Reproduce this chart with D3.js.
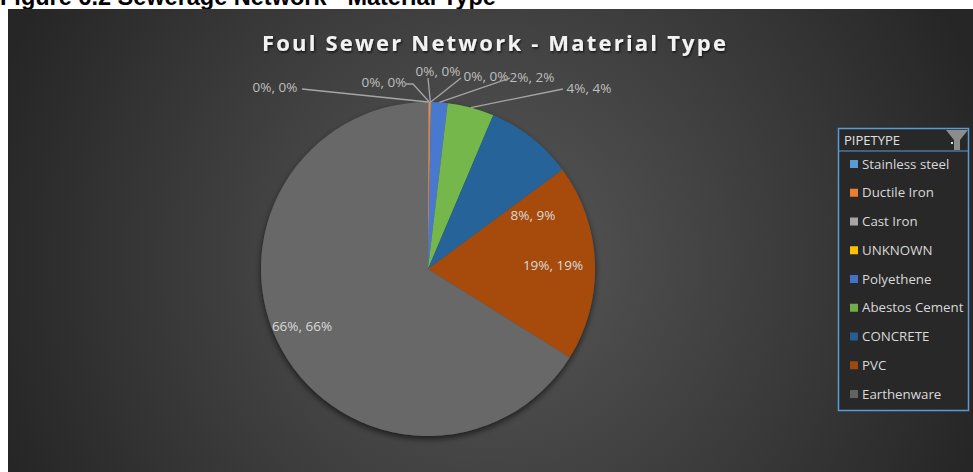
<!DOCTYPE html>
<html><head><meta charset="utf-8">
<script src="https://cdn.jsdelivr.net/npm/d3@7"></script>
<style>html,body{margin:0;padding:0;background:#fff;overflow:hidden}</style>
</head><body>
<svg id="c" width="973" height="472"></svg>
<script>
const categories = ["Stainless steel","Ductile Iron","Cast Iron","UNKNOWN","Polyethene","Abestos Cement","CONCRETE","PVC","Earthenware"];
const values = [0.05, 0.15, 0.05, 0.03, 1.6, 4.5, 8.5, 19.0, 66.1];
const labels = ["0%, 0%","0%, 0%","0%, 0%","0%, 0%","2%, 2%","4%, 4%","8%, 9%","19%, 19%","66%, 66%"];
const colors = ["#5b9bd5","#ed7d31","#a5a5a5","#ffc000","#4472c4","#70ad47","#255e91","#9e480e","#636363"];
const title = "Foul Sewer Network - Material Type";
const header = "Figure 6.2 Sewerage Network - Material Type";
const legendTitle = "PIPETYPE";

const svg = d3.select("#c");
const defs = svg.append("defs");
const bg = defs.append("radialGradient").attr("id","bg").attr("gradientUnits","userSpaceOnUse")
  .attr("cx",490).attr("cy",260).attr("r",520);
bg.append("stop").attr("offset","0").attr("stop-color","#585858");
bg.append("stop").attr("offset","1").attr("stop-color","#262626");

const sh = defs.append("filter").attr("id","sh").attr("x","-20%").attr("y","-20%").attr("width","140%").attr("height","140%");
sh.append("feDropShadow").attr("dx",0).attr("dy",3).attr("stdDeviation",3).attr("flood-color","#000").attr("flood-opacity",0.6);
const tsh = defs.append("filter").attr("id","tsh");
tsh.append("feDropShadow").attr("dx",1).attr("dy",1.5).attr("stdDeviation",1).attr("flood-color","#000").attr("flood-opacity",0.7);

colors.forEach((c,i)=>{
  const g = defs.append("radialGradient").attr("id","g"+i).attr("gradientUnits","userSpaceOnUse")
    .attr("cx",428).attr("cy",269).attr("r",170);
  g.append("stop").attr("offset","0").attr("stop-color",d3.color(c).darker(0.25));
  g.append("stop").attr("offset","1").attr("stop-color",d3.color(c).brighter(0.15));
});

// header (cut at top, as in the source)
svg.append("text").attr("x",0).attr("y",5).text(header)
  .attr("font-family","Liberation Sans, Arial, sans-serif").attr("font-weight","bold")
  .attr("font-size",23.5).attr("fill","#000");

// chart area
svg.append("rect").attr("x",8).attr("y",9).attr("width",965).attr("height",463).attr("fill","url(#bg)");

svg.append("text").attr("x",495).attr("y",51).attr("text-anchor","middle").text(title)
  .attr("font-family","Open Sans, Lato, sans-serif").attr("font-weight","bold")
  .attr("font-size",22).attr("letter-spacing",2.2).attr("fill","#f2f2f2").attr("filter","url(#tsh)");

const cx=428, cy=269, R=167;
const pie = d3.pie().sort(null).value(d=>d)(values);
const arc = d3.arc().innerRadius(0).outerRadius(R);
const g = svg.append("g").attr("transform",`translate(${cx},${cy})`);
g.append("g").attr("filter","url(#sh)").selectAll("path").data(pie).join("path")
  .attr("d",arc).attr("fill",(d,i)=>`url(#g${i})`);

// outside labels with leader lines (first six)
const outPos = [[275,87],[384,82],[438,71],[486,76],[532,77],[589,88]];
const lineStart = [[302,89],[406,84],[428,78],[461,78],[510,78],[563,89]];
const lineBend = [null,[413,84],null,null,null,null];
const lg = svg.append("g");
pie.slice(0,6).forEach((d,i)=>{
  const a = (d.startAngle+d.endAngle)/2;
  const ex = cx + R*Math.sin(a), ey = cy - R*Math.cos(a);
  const pts = [lineStart[i]];
  if (lineBend[i]) pts.push(lineBend[i]);
  pts.push([ex,ey]);
  lg.append("path").attr("d",d3.line()(pts)).attr("fill","none").attr("stroke","#a6a6a6").attr("stroke-width",1.3);
  lg.append("text").attr("x",outPos[i][0]).attr("y",outPos[i][1]).attr("dy","0.35em")
    .attr("text-anchor","middle").text(labels[i])
    .attr("font-family","Open Sans, sans-serif").attr("font-size",13.5).attr("fill","#bfbfbf");
});
// inside labels
const inPos = {6:[533,215],7:[553,265],8:[302,326]};
pie.slice(6).forEach((d,k)=>{
  const i=k+6;
  svg.append("text").attr("x",inPos[i][0]).attr("y",inPos[i][1]).attr("dy","0.35em")
    .attr("text-anchor","middle").text(labels[i])
    .attr("font-family","Open Sans, sans-serif").attr("font-size",13.5).attr("fill","#d9d9d9");
});

// legend
const L = svg.append("g").attr("transform","translate(838,128)");
L.append("rect").attr("x",0.5).attr("y",0.5).attr("width",130).attr("height",282)
  .attr("fill","#282828").attr("stroke","#5b9bd5").attr("stroke-width",1.5);
L.append("line").attr("x1",1).attr("x2",130).attr("y1",23).attr("y2",23).attr("stroke","#5b9bd5").attr("stroke-width",1);
L.append("text").attr("x",6).attr("y",12).attr("dy","0.35em").text(legendTitle)
  .attr("font-family","Open Sans, sans-serif").attr("font-size",13).attr("fill","#e0e0e0");
// dropdown arrow & funnel
L.append("rect").attr("x",113).attr("y",14).attr("width",2).attr("height",2).attr("fill","#d9d9d9");
L.append("path").attr("d","M108,2 L130,2 L122,12 L122,22 L116,22 L116,12 Z").attr("fill","#8c8c8c");
const ly = d3.scalePoint().domain(categories).range([36,266]);
const items = L.selectAll("g.it").data(categories).join("g").attr("class","it")
  .attr("transform",d=>`translate(0,${ly(d)})`);
items.append("rect").attr("x",12).attr("y",-4).attr("width",8).attr("height",8).attr("fill",(d,i)=>colors[i]);
items.append("text").attr("x",24).attr("dy","0.35em").text(d=>d)
  .attr("font-family","Open Sans, sans-serif").attr("font-size",13.3).attr("fill","#d9d9d9");
</script>
</body></html>
